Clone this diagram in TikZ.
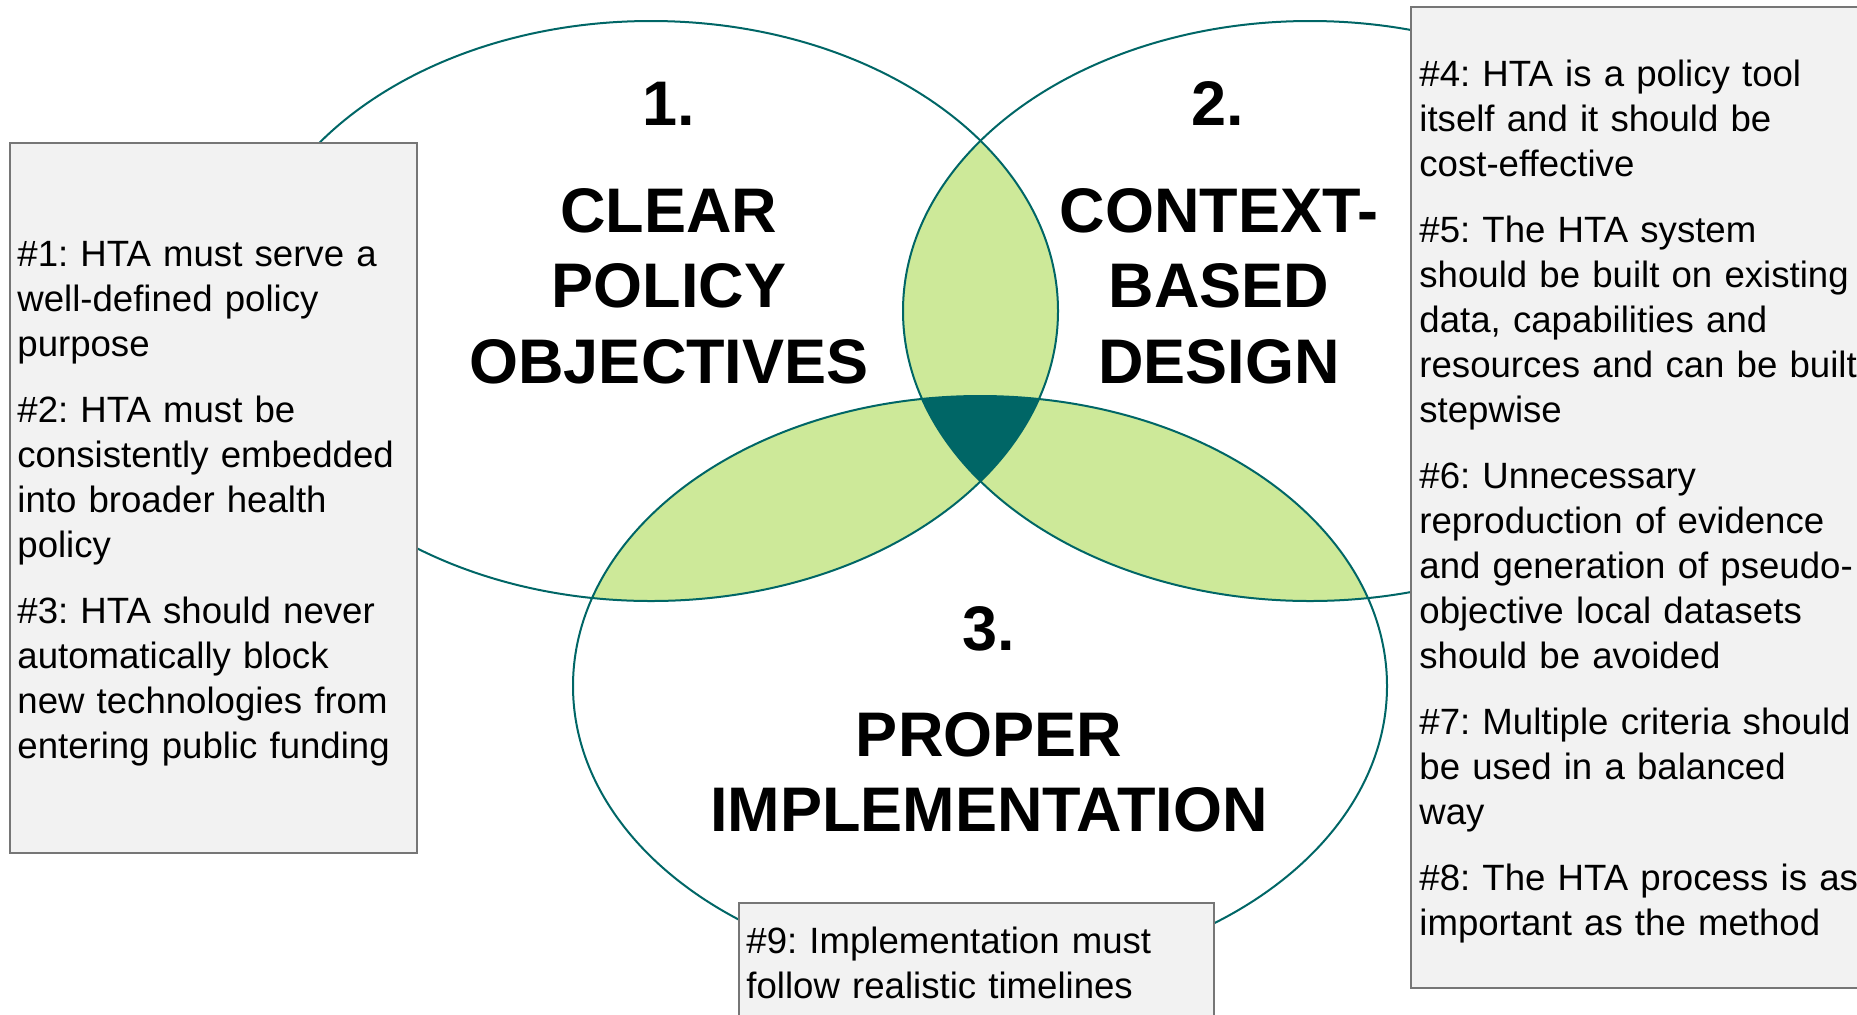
\documentclass[tikz,border=0pt]{standalone}
\usepackage{fontspec}
\setmainfont{Liberation Sans}
\usetikzlibrary{calc}
\frenchspacing

\definecolor{vennline}{RGB}{0,102,102}
\definecolor{lensgreen}{RGB}{205,233,153}
\definecolor{boxfill}{RGB}{242,242,242}
\definecolor{boxline}{RGB}{118,118,118}

\tikzset{
  vennsize/.style={x radius=203.5pt, y radius=145pt},
  notebox/.style={draw=boxline, fill=boxfill, line width=1pt},
  principle/.style={font=\fontsize{18.3}{22.5}\selectfont, anchor=base west,
    inner sep=0pt, align=left},
  heading/.style={font=\bfseries\fontsize{31.5}{37.75}\selectfont, anchor=base,
    inner sep=0pt, align=center, text width=300pt}
}

\begin{document}
\begin{tikzpicture}[x=0.5pt, y=-0.5pt]

\path[use as bounding box, clip] (0,0) rectangle (1857,1014);

\coordinate (cA) at (651,311);
\coordinate (cB) at (1310,311);
\coordinate (cC) at (980,686);

% pairwise overlaps
\begin{scope}
  \clip (cA) ellipse [vennsize];
  \fill [lensgreen] (cB) ellipse [vennsize];
  \fill [lensgreen] (cC) ellipse [vennsize];
\end{scope}
\begin{scope}
  \clip (cB) ellipse [vennsize];
  \fill [lensgreen] (cC) ellipse [vennsize];
\end{scope}

% centre where all three meet
\begin{scope}
  \clip (cA) ellipse [vennsize];
  \clip (cB) ellipse [vennsize];
  \fill [vennline] (cC) ellipse [vennsize];
\end{scope}

\foreach \c in {cA,cB,cC}
  \draw [vennline, line width=1pt] (\c) ellipse [vennsize];

% the three boxes
\draw [notebox] (9.5,143) rectangle (417,853);
\draw [notebox] (1410.5,7) rectangle (1870,988);
\draw [notebox] (739,902.5) rectangle (1214,1030);

\node [heading] (numA) at (669,125) {1.};
\node [heading] (titleA) at (669,232) {CLEAR\\POLICY\\OBJECTIVES};
\node [heading] (numB) at (1218,125) {2.};
\node [heading] (titleB) at (1219,232) {CONTEXT-\\BASED\\DESIGN};
\node [heading] (numC) at (989,650) {3.};
\node [heading] (titleC) at (989,756) {PROPER\\IMPLEMENTATION};

\node [principle, text width=200pt] (notesA) at (17,266) {%
\#1: HTA must serve a\\well-defined policy\\purpose\\[10.5pt]
\#2: HTA must be\\consistently embedded\\into broader health\\policy\\[10.5pt]
\#3: HTA should never\\automatically block\\new technologies from\\entering public funding};

\node [principle, text width=240pt] (notesB) at (1419,86.5) {%
\#4: HTA is a policy tool\\itself and it should be\\cost-effective\\[10.5pt]
\#5: The HTA system\\should be built on existing\\data, capabilities and\\resources and can be built\\stepwise\\[10.5pt]
\#6: Unnecessary\\reproduction of evidence\\and generation of pseudo-\\objective local datasets\\should be avoided\\[10.5pt]
\#7: Multiple criteria should\\be used in a balanced\\way\\[10.5pt]
\#8: The HTA process is as\\important as the method};

\node [principle, text width=230pt] (notesC) at (746,953) {%
\#9: Implementation must\\follow realistic timelines};

\end{tikzpicture}
\end{document}
